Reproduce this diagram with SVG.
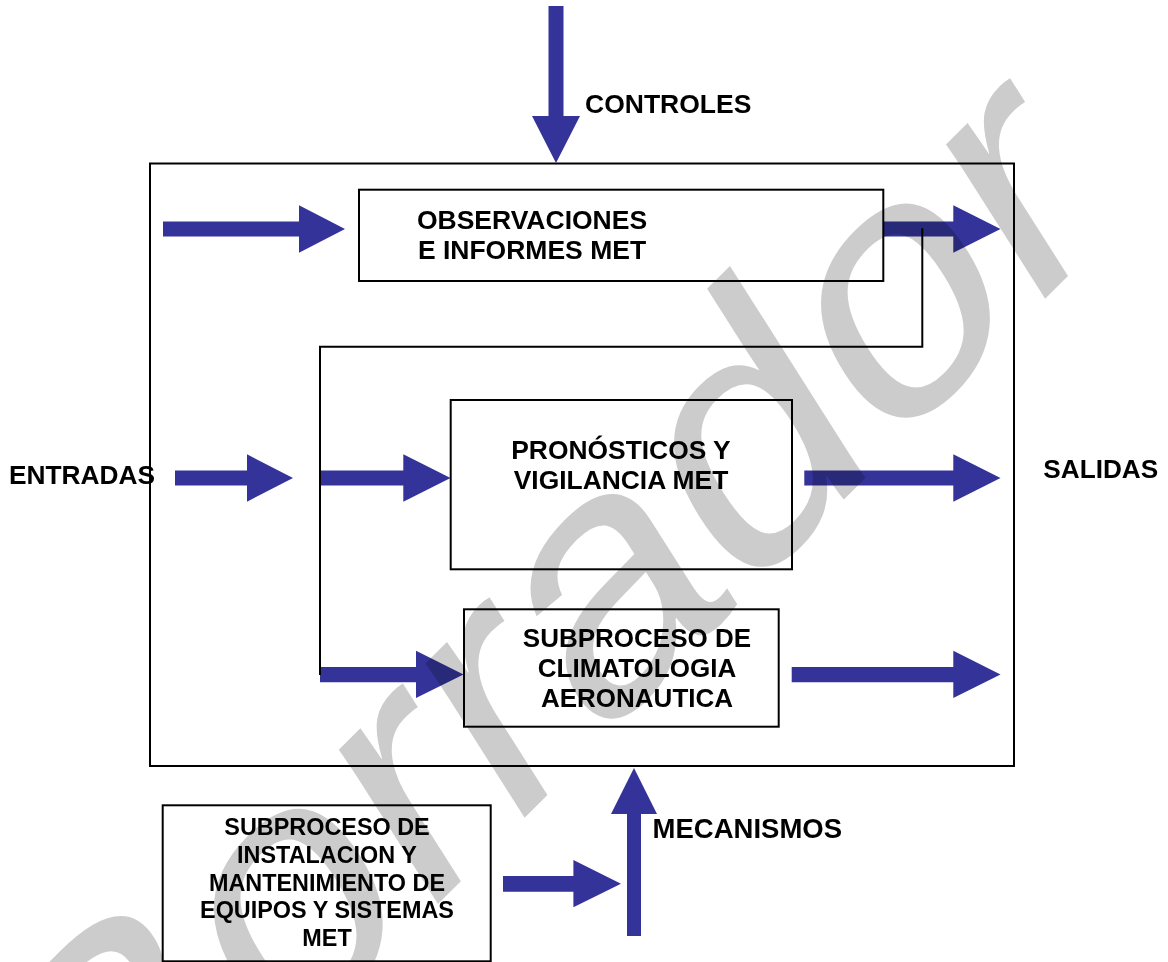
<svg xmlns="http://www.w3.org/2000/svg" width="1168" height="962" viewBox="0 0 1168 962">
<style>
.box{fill:none;stroke:#000;stroke-width:2}
.arrow{fill:#333399;stroke:none}
.line{fill:none;stroke:#000;stroke-width:2}
.t{font-family:"Liberation Sans",Arial,sans-serif;font-weight:bold;fill:#000}
.c{text-anchor:middle}
.wm{font-family:"Liberation Sans",Arial,sans-serif;font-size:100px;fill:#cccccc;mix-blend-mode:multiply}
</style>
<rect width="1168" height="962" fill="#fff"/>
<g id="outer-process">
  <rect class="box" x="150" y="163.5" width="864" height="602.5"/>
</g>
<g id="connectors">
  <polygon class="arrow" points="548.5,6 563.5,6 563.5,116 580,116 556,163 532,116 548.5,116"/>
  <polygon class="arrow" points="163,221.5 299,221.5 299,205.3 345,229 299,252.7 299,236.5 163,236.5"/>
  <polygon class="arrow" points="883,221.5 953.3,221.5 953.3,205.3 1000.5,229 953.3,252.7 953.3,236.5 883,236.5"/>
  <polygon class="arrow" points="175,470.5 247,470.5 247,454.3 293,478 247,501.7 247,485.5 175,485.5"/>
  <polygon class="arrow" points="320,470.5 403.3,470.5 403.3,454.3 450.5,478 403.3,501.7 403.3,485.5 320,485.5"/>
  <polygon class="arrow" points="804.3,470.5 953.3,470.5 953.3,454.3 1000.5,478 953.3,501.7 953.3,485.5 804.3,485.5"/>
  <polygon class="arrow" points="320,667 416,667 416,650.7 463.5,674.5 416,698 416,682.3 320,682.3"/>
  <polygon class="arrow" points="791.7,667 953.3,667 953.3,650.7 1000.5,674.5 953.3,698 953.3,682.3 791.7,682.3"/>
  <polygon class="arrow" points="503,876 573.4,876 573.4,860 621,883.8 573.4,907.3 573.4,891.7 503,891.7"/>
  <polygon class="arrow" points="627,936 641,936 641,814 657,814 634,768 611,814 627,814"/>
  <polyline class="line" points="922.3,228.3 922.3,346.7 320,346.7 320,675"/>
</g>
<g id="controles-label">
  <text class="t" x="585" y="112.7" font-size="26.5">CONTROLES</text>
</g>
<g id="observaciones">
  <rect class="box" x="359" y="189.7" width="524.3" height="91.3"/>
  <text class="t c" x="532" y="229" font-size="26.5">OBSERVACIONES</text>
  <text class="t c" x="532" y="259" font-size="26.5">E INFORMES MET</text>
</g>
<g id="entradas-label">
  <text class="t" x="9" y="484" font-size="26.3">ENTRADAS</text>
</g>
<g id="pronosticos">
  <rect class="box" x="450.7" y="400" width="341.3" height="169.3"/>
  <text class="t c" x="621" y="459" font-size="26.4">PRONÓSTICOS Y</text>
  <text class="t c" x="621" y="489" font-size="26.4">VIGILANCIA MET</text>
</g>
<g id="salidas-label">
  <text class="t" x="1043.3" y="477.7" font-size="26.2">SALIDAS</text>
</g>
<g id="climatologia">
  <rect class="box" x="464" y="609.3" width="314.7" height="117.4"/>
  <text class="t c" x="637" y="646.7" font-size="26">SUBPROCESO DE</text>
  <text class="t c" x="637" y="677.3" font-size="26">CLIMATOLOGIA</text>
  <text class="t c" x="637" y="707.3" font-size="26">AERONAUTICA</text>
</g>
<g id="mecanismos-label">
  <text class="t" x="652.6" y="837.7" font-size="27.5">MECANISMOS</text>
</g>
<g id="instalacion">
  <rect class="box" x="162.7" y="805.3" width="328" height="156"/>
  <text class="t c" x="327" y="835" font-size="23.4">SUBPROCESO DE</text>
  <text class="t c" x="327" y="862.75" font-size="23.4">INSTALACION Y</text>
  <text class="t c" x="327" y="890.5" font-size="23.4">MANTENIMIENTO DE</text>
  <text class="t c" x="327" y="918.25" font-size="23.4">EQUIPOS Y SISTEMAS</text>
  <text class="t c" x="327" y="946" font-size="23.4">MET</text>
</g>
<text class="wm" transform="matrix(2.601,-2.593,1.863,2.933,101.8,1239.2)">Borrador</text>
</svg>
